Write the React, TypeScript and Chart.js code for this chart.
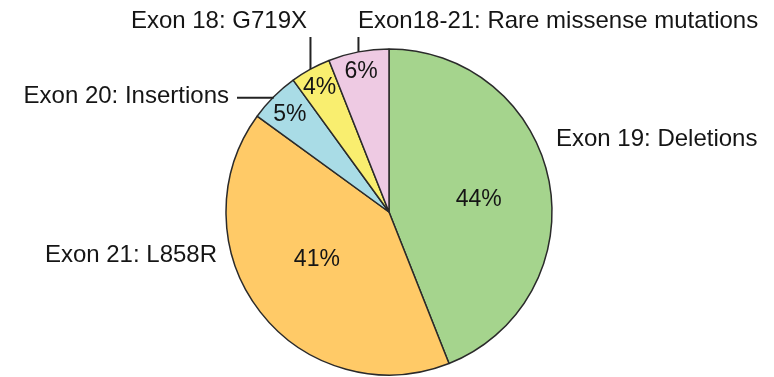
import React, { useEffect, useRef } from "react";
import { Chart, registerables } from "chart.js";

Chart.register(...registerables);

// EGFR mutation categories, clockwise from 12 o'clock
const categories = [
  "Exon 19: Deletions",
  "Exon 21: L858R",
  "Exon 20: Insertions",
  "Exon 18: G719X",
  "Exon18-21: Rare missense mutations",
];
const shares = [44, 41, 5, 4, 6];
const sliceColors = ["#A5D48D", "#FFCA67", "#A9DCE6", "#F9EE6F", "#EECAE3"];

// Percent-label placement: fraction of radius along the slice mid-angle, plus nudge
const pctPlacement = [
  { frac: 0.56, dx: 0, dy: 5 },
  { frac: 0.56, dx: 0, dy: -8 },
  { frac: 0.86, dx: 0, dy: 2 },
  { frac: 0.87, dx: -1, dy: 0 },
  { frac: 0.88, dx: -1, dy: 1 },
];

// Category-label placement relative to the pie centre (in units of px),
// with the kind of leader line that joins it to its slice
type Leader = "none" | "horizontal" | "vertical";
const namePlacement: { dx: number; dy: number; align: CanvasTextAlign; leader: Leader }[] = [
  { dx: 167, dy: -73, align: "left", leader: "none" },
  { dx: -172, dy: 43, align: "right", leader: "none" },
  { dx: -160, dy: -116, align: "right", leader: "horizontal" },
  { dx: -82, dy: -191, align: "right", leader: "vertical" },
  { dx: -31, dy: -191, align: "left", leader: "vertical" },
];

const FONT = "'Liberation Sans', Arial, Helvetica, sans-serif";

const labelPlugin = {
  id: "pieLabels",
  afterDatasetsDraw(chart: any) {
    const ctx: CanvasRenderingContext2D = chart.ctx;
    const arcs = chart.getDatasetMeta(0).data;
    if (!arcs.length) return;
    const cx = arcs[0].x;
    const cy = arcs[0].y;
    ctx.save();
    ctx.fillStyle = "#151515";
    ctx.textBaseline = "middle";

    arcs.forEach((arc: any, i: number) => {
      const { startAngle, endAngle, outerRadius } = arc.getProps(
        ["startAngle", "endAngle", "outerRadius"],
        true
      );
      const mid = (startAngle + endAngle) / 2;

      // percentage inside the slice
      const p = pctPlacement[i];
      const px = cx + Math.cos(mid) * outerRadius * p.frac + p.dx;
      const py = cy + Math.sin(mid) * outerRadius * p.frac + p.dy;
      ctx.font = `23px ${FONT}`;
      ctx.textAlign = "center";
      ctx.fillText(`${shares[i]}%`, px, py);

      // category name outside the pie
      const n = namePlacement[i];
      const nx = cx + n.dx;
      const ny = cy + n.dy;
      ctx.font = `24px ${FONT}`;
      ctx.textAlign = n.align;
      ctx.fillText(categories[i], nx, ny);

      // leader line to the slice edge
      const ex = cx + Math.cos(mid) * outerRadius;
      const ey = cy + Math.sin(mid) * outerRadius;
      ctx.strokeStyle = "#222";
      ctx.lineWidth = 2;
      if (n.leader === "horizontal") {
        ctx.beginPath();
        ctx.moveTo(nx + 8, ey + 1);
        ctx.lineTo(ex, ey + 1);
        ctx.stroke();
      } else if (n.leader === "vertical") {
        ctx.beginPath();
        ctx.moveTo(ex, ny + 16);
        ctx.lineTo(ex, ey);
        ctx.stroke();
      }
    });
    ctx.restore();
  },
};

export default function App() {
  const canvasRef = useRef<HTMLCanvasElement | null>(null);

  useEffect(() => {
    document.body.style.margin = "0";
    const canvas = canvasRef.current;
    if (!canvas) return;
    const chart = new Chart(canvas, {
      type: "pie",
      data: {
        labels: categories,
        datasets: [
          {
            data: shares,
            backgroundColor: sliceColors,
            borderColor: "#2a2a2a",
            borderWidth: 1.5,
          },
        ],
      },
      options: {
        animation: false,
        responsive: true,
        maintainAspectRatio: false,
        radius: 163,
        layout: { padding: { top: 47, bottom: 0, left: 4, right: 0 } },
        plugins: {
          legend: { display: false },
          tooltip: { enabled: false },
        },
      },
      plugins: [labelPlugin],
    });
    return () => chart.destroy();
  }, []);

  return (
    <div style={{ position: "absolute", left: 0, top: 0, width: 774, height: 377, background: "#fff" }}>
      <canvas ref={canvasRef} />
    </div>
  );
}
